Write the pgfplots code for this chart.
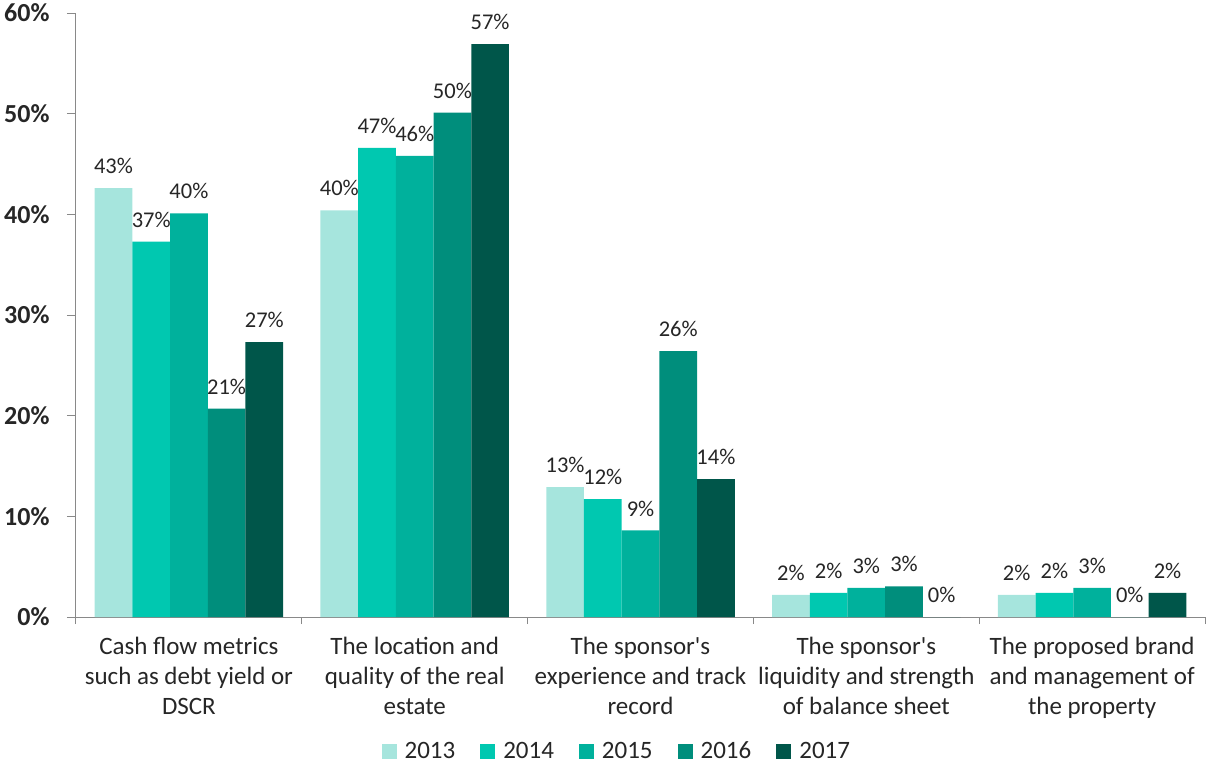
\documentclass[border=0pt]{standalone}
\usepackage{pgfplots}
\pgfplotsset{compat=1.18}
\usepackage{fontspec}
\setmainfont{Carlito}
\definecolor{c13}{HTML}{A6E5DD}
\definecolor{c14}{HTML}{00C8B0}
\definecolor{c15}{HTML}{00B19C}
\definecolor{c16}{HTML}{008E7C}
\definecolor{c17}{HTML}{00564A}
\definecolor{axgray}{HTML}{898989}
\begin{document}
\begin{tikzpicture}
\begin{axis}[
  at={(0pt,0pt)}, anchor=south west, scale only axis,
  width=1129pt, height=604pt,
  ybar=0pt, bar width=37.7pt,
  xmin=-0.5, xmax=4.5, ymin=0, ymax=60,
  xtick={0,1,2,3,4},
  xticklabels={{Cash flow metrics\\such as debt yield or\\DSCR},
               {The location and\\quality of the real\\estate},
               {The sponsor\textquotesingle s\\experience and track\\record},
               {The sponsor\textquotesingle s\\liquidity and strength\\of balance sheet},
               {The proposed brand\\and management of\\the property}},
  xticklabel style={align=center, font=\fontsize{25}{30}\selectfont, text=black!85, yshift=-8pt},
  minor xtick={-0.5,0.5,1.5,2.5,3.5,4.5},
  ytick={0,10,20,30,40,50,60},
  yticklabel={\textbf{\pgfmathprintnumber{\tick}\%}},
  yticklabel style={font=\fontsize{26}{30}\selectfont, text=black!85, xshift=-14pt},
  /pgf/number format/assume math mode=true,
  axis x line*=bottom, axis y line*=left,
  axis line style={draw=axgray, line width=1pt, -},
  tick style={draw=axgray, line width=1pt},
  every major x tick/.style={draw=none},
  tick align=outside,
  major tick length=9pt, minor tick length=7pt,
  nodes near coords={\pgfmathprintnumber[fixed,precision=0]{\pgfplotspointmeta}\%},
  every node near coord/.append style={font=\fontsize{22.5}{27}\selectfont, text=black!85, anchor=south, inner sep=0pt, yshift=14pt},
  legend columns=5,
  legend style={at={(axis description cs:0.479,-0.222)}, anchor=center, draw=none,
    font=\fontsize{25}{30}\selectfont, text=black!85,
    /tikz/every even column/.append style={column sep=23pt},
    /tikz/every odd column/.append style={column sep=6pt}},
  legend image code/.code={\fill[#1] (0pt,-7.5pt) rectangle (15pt,7.5pt);},
]
\addplot[fill=c13, draw=none] coordinates {(0,42.6) (1,40.4) (2,12.9) (3,2.2) (4,2.2)};
\addplot[fill=c14, draw=none] coordinates {(0,37.3) (1,46.6) (2,11.7) (3,2.4) (4,2.4)};
\addplot[fill=c15, draw=none] coordinates {(0,40.1) (1,45.8) (2,8.6) (3,2.9) (4,2.9)};
\addplot[fill=c16, draw=none] coordinates {(0,20.7) (1,50.1) (2,26.4) (3,3.05) (4,0)};
\addplot[fill=c17, draw=none] coordinates {(0,27.3) (1,56.9) (2,13.7) (3,0) (4,2.4)};
\legend{2013,2014,2015,2016,2017}
\end{axis}
\pgfresetboundingbox
\path[use as bounding box] (-76pt,-154pt) rectangle (1133pt,617pt);
\end{tikzpicture}
\end{document}
